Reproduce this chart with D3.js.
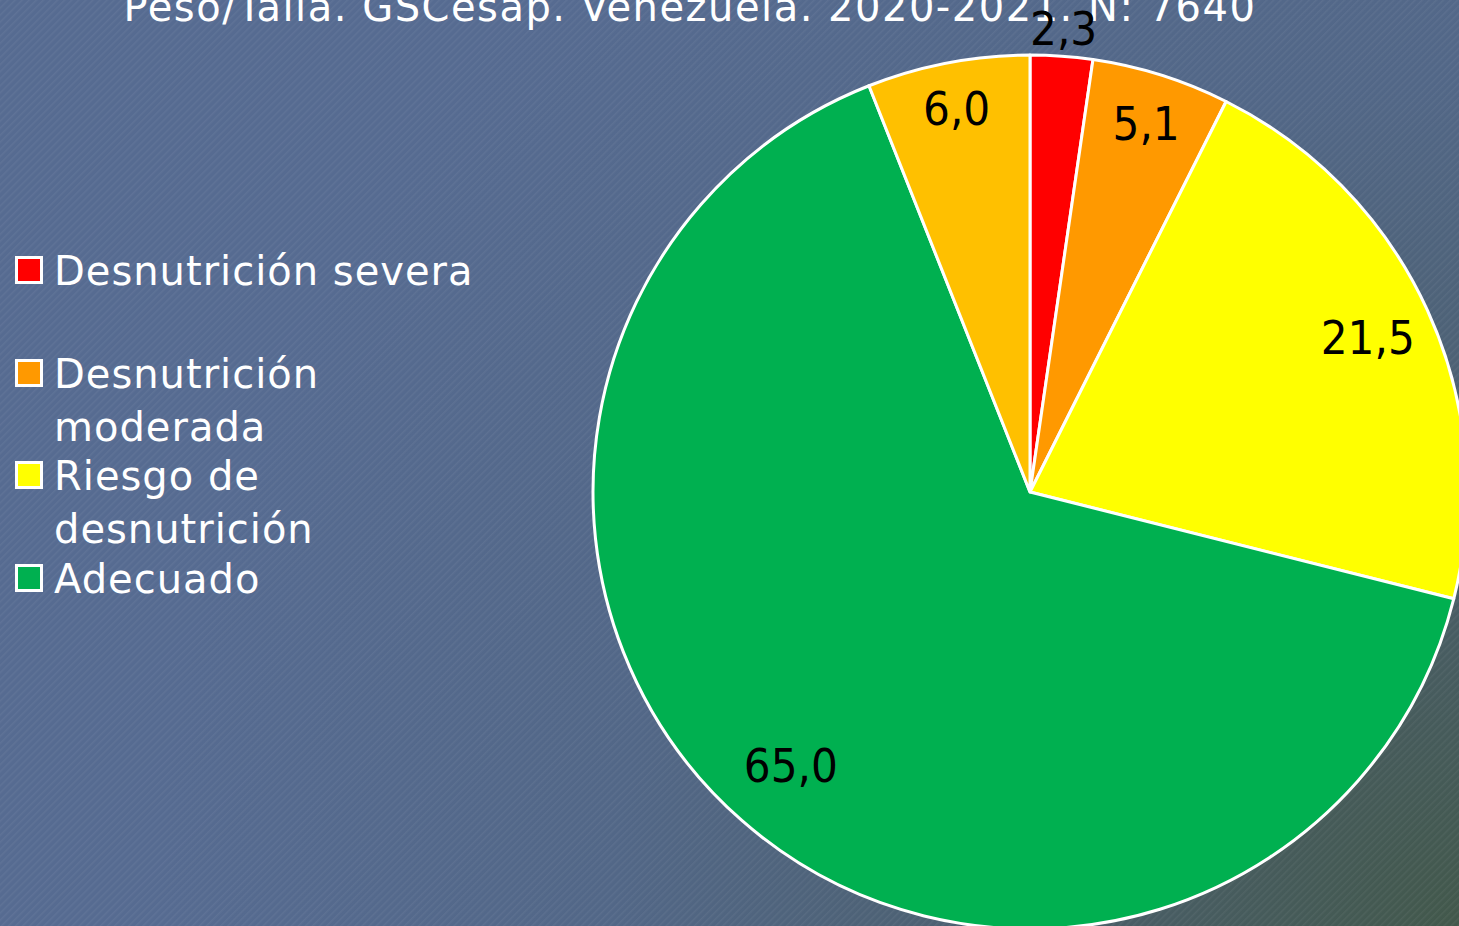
<!DOCTYPE html>
<meta charset="utf-8">
<style>
body { margin: 0; overflow: hidden; }
text { font-family: "DejaVu Sans Condensed", "DejaVu Sans", sans-serif; }
.legend text { fill: #fff; font-size: 40px; font-family: "DejaVu Sans", sans-serif; letter-spacing: 1px; }
.labels text { fill: #000; font-size: 47px; text-anchor: middle; }
.title { fill: #fff; font-size: 40px; text-anchor: middle; font-family: "DejaVu Sans", sans-serif; letter-spacing: 1.5px; }
</style>

<svg width="1459" height="926"></svg>

<script src="https://d3js.org/d3.v7.min.js"></script>
<script>
// pie of weight/height categories, slices clockwise from 12 o'clock
var svg = d3.select("svg"),
    width = +svg.attr("width"),
    height = +svg.attr("height");

var categories = ["Desnutrición severa", "Desnutrición moderada", "Riesgo de desnutrición", "Adecuado", "Sobrepeso"];
var values = [2.3, 5.1, 21.5, 65.0, 6.0];
var labels = ["2,3", "5,1", "21,5", "65,0", "6,0"];
var colors = ["#ff0000", "#ff9900", "#ffff00", "#00b050", "#ffc000"];
// legend only shows the first four, wrapped like the original
var legendLines = [["Desnutrición severa"], ["Desnutrición", "moderada"], ["Riesgo de", "desnutrición"], ["Adecuado"]];
var title = "Peso/Talla. GSCesap. Venezuela. 2020-2021. N: 7640";

// background: blue with slate-green corner and fine diagonal hatching
var defs = svg.append("defs");
var grad = defs.append("radialGradient")
    .attr("id", "bg")
    .attr("gradientUnits", "userSpaceOnUse")
    .attr("cx", width).attr("cy", height).attr("r", 1300);
grad.append("stop").attr("offset", "0").attr("stop-color", "#42584b");
grad.append("stop").attr("offset", "0.3").attr("stop-color", "#4a5e6a");
grad.append("stop").attr("offset", "0.65").attr("stop-color", "#526787");
grad.append("stop").attr("offset", "1").attr("stop-color", "#566b91");

var pat = defs.append("pattern")
    .attr("id", "hatch")
    .attr("patternUnits", "userSpaceOnUse")
    .attr("width", 5).attr("height", 5)
    .attr("patternTransform", "rotate(45)");
pat.append("rect").attr("width", 1.5).attr("height", 5).attr("fill", "#fff").attr("fill-opacity", 0.05);

svg.append("rect").attr("width", width).attr("height", height).attr("fill", "url(#bg)");
svg.append("rect").attr("width", width).attr("height", height).attr("fill", "url(#hatch)");

svg.append("text")
    .attr("class", "title")
    .attr("x", 690)
    .attr("y", 21)
    .text(title);

// pie
var cx = 1030, cy = 492, radius = 437;

var pie = d3.pie().sort(null).value(function(d) { return d; });
var arcs = pie(values);

var arc = d3.arc().innerRadius(0).outerRadius(radius);

var g = svg.append("g").attr("transform", "translate(" + cx + "," + cy + ")");

g.append("g")
    .selectAll("path")
    .data(arcs)
  .enter().append("path")
    .attr("d", arc)
    .attr("fill", function(d, i) { return colors[i]; })
    .attr("stroke", "#fff")
    .attr("stroke-width", 3)
    .attr("stroke-linejoin", "round");

// label distance from centre, as a share of the radius (small slice sits outside)
var labelRadius = [1.065, 0.885, 0.85, 0.83, 0.895];

g.append("g")
    .attr("class", "labels")
    .selectAll("text")
    .data(arcs)
  .enter().append("text")
    .attr("transform", function(d, i) {
      var r = radius * labelRadius[i];
      var c = d3.arc().innerRadius(r).outerRadius(r).centroid(d);
      return "translate(" + c + ")";
    })
    .attr("dy", "0.36em")
    .text(function(d, i) { return labels[i]; });

// legend
var lineH = 53;
var legendTop = [285, 388, 490, 593];

var legend = svg.append("g").attr("class", "legend");

var item = legend.selectAll("g")
    .data(legendLines)
  .enter().append("g")
    .attr("transform", function(d, i) { return "translate(0," + legendTop[i] + ")"; });

item.append("rect")
    .attr("x", 16.5).attr("y", -27.5)
    .attr("width", 25).attr("height", 25)
    .attr("fill", function(d, i) { return colors[i]; })
    .attr("stroke", "#fff")
    .attr("stroke-width", 3);

item.append("text")
    .attr("x", 54)
    .selectAll("tspan")
    .data(function(d) { return d; })
  .enter().append("tspan")
    .attr("x", 54)
    .attr("y", function(d, j) { return j * lineH; })
    .text(function(d) { return d; });
</script>
